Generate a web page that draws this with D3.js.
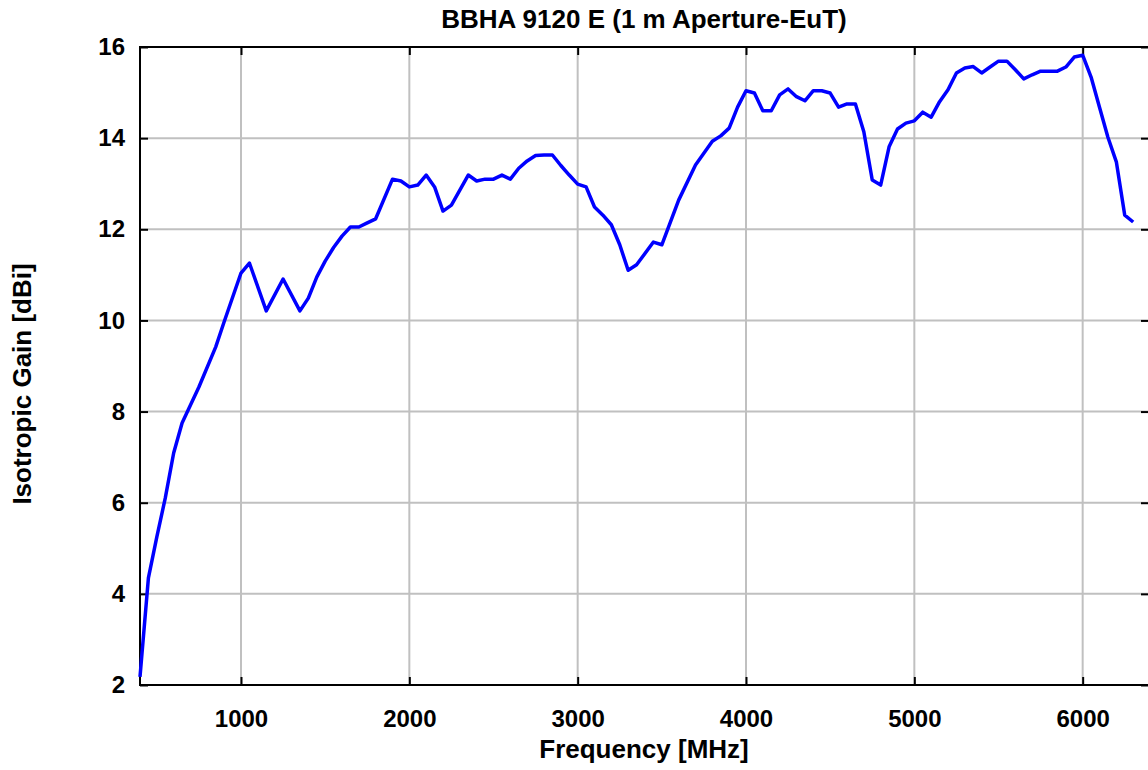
<!DOCTYPE html>
<html>
<head>
<meta charset="utf-8">
<script src="https://cdn.jsdelivr.net/npm/d3@7"></script>
<style>
  body { margin: 0; background: #fff; }
  svg text { font-family: "Liberation Sans", Arial, sans-serif; font-weight: bold; fill: #000; }
</style>
</head>
<body>
<svg id="chart" width="1148" height="770"></svg>
<script>
// frequency [MHz] and gain [dBi]
const freq = [400, 450, 500, 550, 600, 650, 750, 850, 900, 1000, 1050, 1150, 1250, 1350, 1400, 1450,
  1500, 1550, 1600, 1650, 1700, 1750, 1800, 1900, 1950, 2000, 2050, 2100, 2150, 2200, 2250, 2350,
  2400, 2450, 2500, 2550, 2600, 2650, 2700, 2750, 2800, 2850, 2900, 2950, 3000, 3050, 3100, 3150,
  3200, 3250, 3300, 3350, 3450, 3500, 3600, 3700, 3800, 3850, 3900, 3950, 4000, 4050, 4100, 4150,
  4200, 4250, 4300, 4350, 4400, 4450, 4500, 4550, 4600, 4650, 4700, 4750, 4800, 4850, 4900, 4950,
  5000, 5050, 5100, 5150, 5200, 5250, 5300, 5350, 5400, 5450, 5500, 5550, 5600, 5650, 5700, 5750,
  5800, 5850, 5900, 5950, 6000, 6050, 6100, 6150, 6200, 6250, 6300];
const gain = [2.18, 4.35, 5.25, 6.1, 7.09, 7.75, 8.54, 9.42, 9.97, 11.04, 11.26, 10.21, 10.91, 10.21, 10.49, 10.95,
  11.3, 11.6, 11.85, 12.05, 12.05, 12.14, 12.23, 13.1, 13.06, 12.93, 12.97, 13.19, 12.93, 12.4, 12.53, 13.19,
  13.06, 13.1, 13.1, 13.19, 13.1, 13.34, 13.5, 13.62, 13.63, 13.63, 13.4, 13.19, 12.99, 12.93, 12.49, 12.31,
  12.1, 11.66, 11.1, 11.22, 11.72, 11.66, 12.64, 13.41, 13.93, 14.05, 14.22, 14.68, 15.04, 14.99, 14.6, 14.6,
  14.95, 15.08, 14.91, 14.82, 15.04, 15.04, 14.99, 14.68, 14.75, 14.75, 14.14, 13.08, 12.97, 13.81, 14.2, 14.33,
  14.38, 14.57, 14.46, 14.8, 15.06, 15.43, 15.54, 15.57, 15.43, 15.56, 15.69, 15.69, 15.5, 15.3, 15.39, 15.47,
  15.47, 15.47, 15.56, 15.78, 15.82, 15.34, 14.68, 14.02, 13.48, 12.31, 12.16];
const xTicks = [1000, 2000, 3000, 4000, 5000, 6000];
const yTicks = [2, 4, 6, 8, 10, 12, 14, 16];

const svg = d3.select('#chart');
const pLeft = 140, pRight = 1150, pTop = 47, pBottom = 685;

const x = d3.scaleLinear().domain([400, 6400]).range([pLeft, pRight]);
const y = d3.scaleLinear().domain([2, 16]).range([pBottom, pTop]);

// grid
svg.append('g').selectAll('line')
  .data(xTicks)
  .join('line')
  .attr('x1', d => x(d)).attr('x2', d => x(d))
  .attr('y1', pTop).attr('y2', pBottom)
  .attr('stroke', '#c0c0c0').attr('stroke-width', 2);
svg.append('g').selectAll('line')
  .data(yTicks)
  .join('line')
  .attr('x1', pLeft).attr('x2', pRight)
  .attr('y1', d => y(d)).attr('y2', d => y(d))
  .attr('stroke', '#c0c0c0').attr('stroke-width', 2);

// axes with inward ticks
const axisStyle = g => {
  g.select('.domain').remove();
  g.selectAll('.tick line').attr('stroke', '#000').attr('stroke-width', 2);
  g.selectAll('.tick text').style('font-size', '24px').style('font-family', '"Liberation Sans", Arial, sans-serif').style('font-weight', 'bold');
};
svg.append('g')
  .attr('transform', `translate(0,${pBottom})`)
  .call(d3.axisBottom(x).tickValues(xTicks).tickSize(-8).tickPadding(25).tickFormat(d3.format('d')))
  .call(axisStyle);
svg.append('g')
  .attr('transform', `translate(0,${pTop})`)
  .call(d3.axisTop(x).tickValues(xTicks).tickSize(-8).tickFormat(''))
  .call(axisStyle);
svg.append('g')
  .attr('transform', `translate(${pLeft},0)`)
  .call(d3.axisLeft(y).tickValues(yTicks).tickSize(-8).tickPadding(15))
  .call(axisStyle);
svg.append('g')
  .attr('transform', `translate(${pRight - 1},0)`)
  .call(d3.axisRight(y).tickValues(yTicks).tickSize(-8).tickFormat(''))
  .call(axisStyle);

// frame
svg.append('rect')
  .attr('x', pLeft).attr('y', pTop)
  .attr('width', pRight - pLeft).attr('height', pBottom - pTop)
  .attr('fill', 'none').attr('stroke', '#000').attr('stroke-width', 2);

// data line
const line = d3.line().x((d, i) => x(freq[i])).y(d => y(d));
svg.append('path')
  .datum(gain)
  .attr('d', line)
  .attr('fill', 'none')
  .attr('stroke', '#0000ff')
  .attr('stroke-width', 3.5)
  .attr('stroke-linejoin', 'round');

// labels
svg.append('text')
  .attr('x', 644).attr('y', 28)
  .attr('text-anchor', 'middle')
  .style('font-size', '26px')
  .text('BBHA 9120 E (1 m Aperture-EuT)');
svg.append('text')
  .attr('x', 644).attr('y', 758)
  .attr('text-anchor', 'middle')
  .style('font-size', '26px')
  .text('Frequency [MHz]');
svg.append('text')
  .attr('transform', 'translate(31,384) rotate(-90)')
  .attr('text-anchor', 'middle')
  .style('font-size', '26px')
  .text('Isotropic Gain [dBi]');
</script>
</body>
</html>
